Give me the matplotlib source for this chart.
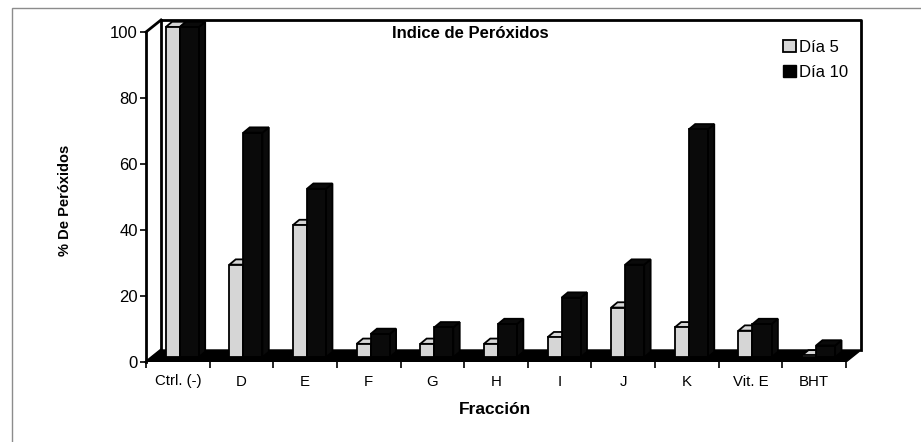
import numpy as np
import matplotlib
matplotlib.use("Agg")
import matplotlib.pyplot as plt
from matplotlib.patches import Polygon, Patch, Rectangle

plt.rcParams['font.family'] = ['Liberation Sans', 'DejaVu Sans']

fracciones = ["Ctrl. (-)", "D", "E", "F", "G", "H", "I", "J", "K", "Vit. E", "BHT"]
dia5 = [100, 28, 40, 4, 4, 4, 6, 15, 9, 8, 0.5]
dia10 = [100, 68, 51, 7, 9, 10, 18, 28, 69, 10, 3.5]

# fake 3D: wall depth and bar depth, in data units (x = categories, y = %)
wall_dx, wall_dy = 0.236, 3.64
bar_dx, bar_dy = 0.1, 1.6
bar_ox, bar_oy = 0.08, 1.5
light = "#d6d6d6"
dark = "#0a0a0a"

W, H = 921, 442
fig = plt.figure(figsize=(W / 100, H / 100), dpi=100)
fig.patch.set_facecolor("white")

# axes pixel box: front axis starts at x=146, zero line at y=362
px_cat = 700 / 11
px_unit = 3.3
left, right, bottom, top = 146, 864, 362, 16
ax = fig.add_axes([left / W, (H - bottom) / H, (right - left) / W, (bottom - top) / H])
ax.set_xlim(-0.5, -0.5 + (right - left) / px_cat)
ax.set_ylim(0, (bottom - top) / px_unit)
ax.set_facecolor("none")
for s in ax.spines.values():
    s.set_visible(False)

n = len(fracciones)
x = np.arange(n)
x0, x1 = -0.5, n - 0.5

# floor
ax.add_patch(Polygon([(x0, 0), (x1, 0), (x1 + wall_dx, wall_dy), (x0 + wall_dx, wall_dy)],
                     closed=True, facecolor="black", edgecolor="black", lw=1, zorder=1))

# back wall and left wall outlines
kw = dict(color="black", lw=2, zorder=0.5, clip_on=False, solid_capstyle="projecting")
ax.plot([x0 + wall_dx, x1 + wall_dx, x1 + wall_dx], [100 + wall_dy, 100 + wall_dy, wall_dy], **kw)
ax.plot([x0 + wall_dx, x0 + wall_dx], [wall_dy, 100 + wall_dy], **kw)
ax.plot([x0, x0 + wall_dx], [100, 100 + wall_dy], **kw)
ax.plot([x0, x0], [0, 100], **kw)
ax.plot([x0, x0 + wall_dx], [0, wall_dy], **kw)


def draw_bar(xl, w, v, color, z):
    xr = xl + w
    t = bar_oy + v
    ax.bar(xl, v, width=w, bottom=bar_oy, align="edge", color=color,
           edgecolor="black", lw=1.3, zorder=z + 0.2)
    side = [(xr, bar_oy), (xr, t), (xr + bar_dx, t + bar_dy), (xr + bar_dx, bar_oy + bar_dy)]
    topf = [(xl, t), (xr, t), (xr + bar_dx, t + bar_dy), (xl + bar_dx, t + bar_dy)]
    ax.add_patch(Polygon(side, closed=True, facecolor=color, edgecolor="black", lw=1.3, zorder=z))
    ax.add_patch(Polygon(topf, closed=True, facecolor=color, edgecolor="black", lw=1.3, zorder=z + 0.1))


for i in range(n):
    draw_bar(x[i] - 0.27 + bar_ox, 0.22, dia5[i], light, 2 + i)
    draw_bar(x[i] - 0.05 + bar_ox, 0.30, dia10[i], dark, 2.5 + i)

# ticks
ax.set_yticks([0, 20, 40, 60, 80, 100])
ax.tick_params(axis="y", length=4, width=1.2, direction="out", labelsize=12, pad=2)
ax.set_xticks(x)
ax.set_xticklabels(fracciones)
ax.set_xticks(np.arange(n + 1) - 0.5, minor=True)
ax.tick_params(axis="x", which="major", length=0, labelsize=10.8, pad=9)
ax.tick_params(axis="x", which="minor", length=4, width=1.2, direction="out")

fig.text(470 / W, 1 - 33 / H, "Indice de Peróxidos", ha="center", va="center",
         fontsize=12, fontweight="bold")
fig.text(495 / W, 1 - 409 / H, "Fracción", ha="center", va="center",
         fontsize=12.5, fontweight="bold")
fig.text(65 / W, 1 - 200 / H, "% De Peróxidos", ha="center", va="center",
         rotation=90, fontsize=10.5, fontweight="bold")

handles = [Patch(facecolor=light, edgecolor="black", lw=1.3, label="Día 5"),
           Patch(facecolor="black", edgecolor="black", label="Día 10")]
fig.legend(handles=handles, loc="upper left", bbox_to_anchor=(783 / W, 1 - 40 / H),
           frameon=False, fontsize=12, handlelength=0.75, handleheight=0.75,
           handletextpad=0.2, labelspacing=0.6, borderaxespad=0, borderpad=0)

# outer border of the chart area
fig.add_artist(Rectangle((12 / W, -0.05), 1.2, 1 - 8 / H + 0.05, transform=fig.transFigure,
                         fill=False, edgecolor="#8c8c8c", lw=1))

fig.savefig("out.png", dpi=100)
